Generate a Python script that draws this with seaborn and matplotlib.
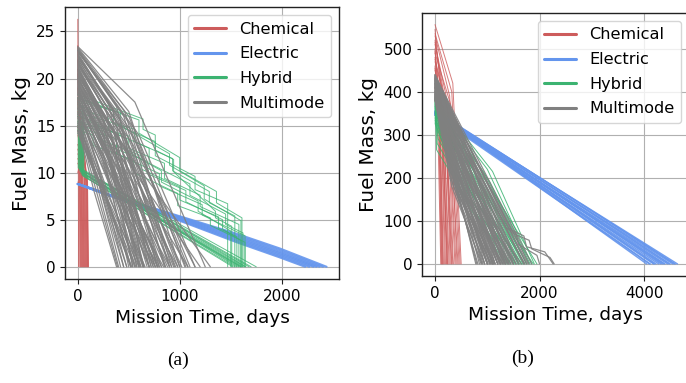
import pandas as pd
import matplotlib
matplotlib.use("Agg")
import matplotlib.pyplot as plt
import seaborn as sns
from matplotlib.lines import Line2D

modes = ["Chemical", "Electric", "Hybrid", "Multimode"]
palette = {"Chemical": "#cd5c5c", "Electric": "#6495ed",
           "Hybrid": "#3cb371", "Multimode": "#808080"}

# ---------------- panel (a) ----------------
chem_a_m0 = [26.3, 23.5, 22.0, 20.5, 19.0, 17.5, 16.5, 15.0, 14.0, 13.0,
             12.0, 11.0, 10.0, 9.0, 14.5, 18.0, 21.0, 12.5, 16.0, 11.5]
chem_a_t1 = [5, 22, 45, 15, 60, 35, 85, 50, 95, 28,
             70, 92, 40, 55, 80, 18, 32, 65, 76, 90]
chem_a_m1 = [14.0, 13.5, 12.0, 13.0, 11.5, 12.5, 10.0, 11.0, 9.5, 12.0,
             10.5, 9.0, 11.5, 8.5, 10.0, 13.0, 12.5, 10.0, 11.0, 9.5]
chem_a_T = [8, 30, 55, 20, 70, 45, 95, 60, 105, 35,
            80, 100, 50, 65, 90, 25, 40, 75, 85, 100]

elec_a_t = [[0, 300, 900, 1560, 1980, 2230],
            [0, 300, 900, 1560, 1980, 2270],
            [0, 300, 900, 1560, 1980, 2310],
            [0, 300, 900, 1560, 1980, 2340],
            [0, 300, 900, 1560, 1980, 2370],
            [0, 300, 900, 1560, 1980, 2405],
            [0, 300, 900, 1560, 1980, 2440]]
elec_a_m = [[8.8, 7.60, 5.30, 2.60, 1.00, 0],
            [8.8, 7.62, 5.38, 2.75, 1.15, 0],
            [8.8, 7.64, 5.45, 2.90, 1.30, 0],
            [8.8, 7.65, 5.50, 3.05, 1.45, 0],
            [8.8, 7.67, 5.57, 3.20, 1.60, 0],
            [8.8, 7.69, 5.63, 3.35, 1.78, 0],
            [8.8, 7.70, 5.70, 3.50, 1.95, 0]]

hyb_a_up_t = [[0, 640, 640, 760, 760, 940, 940, 1350, 1350, 1510, 1510],
              [0, 420, 420, 900, 900, 1240, 1240, 1600, 1600],
              [0, 300, 300, 700, 700, 1100, 1100, 1450, 1450, 1620, 1620],
              [0, 200, 200, 620, 620, 1000, 1000, 1380, 1380, 1560, 1560],
              [0, 500, 500, 850, 850, 1200, 1200, 1580, 1580],
              [0, 150, 150, 550, 550, 980, 980, 1300, 1300, 1640, 1640],
              [0, 350, 350, 760, 760, 1150, 1150, 1470, 1470],
              [0, 260, 260, 680, 680, 1060, 1060, 1420, 1420, 1600, 1600],
              [0, 560, 560, 930, 930, 1290, 1290, 1540, 1540],
              [0, 120, 120, 480, 480, 820, 820, 1180, 1180, 1500, 1500],
              [0, 380, 380, 800, 800, 1220, 1220, 1640, 1640],
              [0, 600, 600, 1000, 1000, 1360, 1360, 1610, 1610]]
hyb_a_up_m = [[18.3, 15.7, 14.6, 14.0, 12.4, 11.4, 10.1, 5.9, 5.2, 4.3, 0],
              [17.6, 16.4, 15.0, 12.0, 10.8, 8.6, 7.2, 4.9, 0],
              [16.8, 15.8, 14.5, 12.6, 11.0, 8.8, 7.6, 5.6, 4.5, 3.6, 0],
              [16.0, 15.3, 13.6, 11.8, 10.4, 8.5, 7.1, 5.3, 4.1, 3.2, 0],
              [15.4, 13.9, 12.6, 11.0, 9.4, 7.6, 6.4, 4.5, 0],
              [14.5, 14.0, 12.9, 11.3, 10.0, 7.8, 6.5, 5.2, 4.4, 2.6, 0],
              [18.0, 16.6, 15.2, 13.3, 11.8, 9.6, 8.2, 6.7, 0],
              [15.0, 14.4, 13.0, 11.2, 9.9, 8.1, 6.9, 5.0, 4.0, 2.8, 0],
              [16.4, 14.6, 13.3, 11.5, 10.2, 8.0, 6.8, 5.4, 0],
              [17.2, 16.8, 15.4, 13.6, 12.3, 10.2, 9.0, 7.0, 5.9, 3.8, 0],
              [14.8, 13.6, 12.0, 9.9, 8.6, 6.6, 5.5, 3.3, 0],
              [17.9, 15.6, 14.2, 11.6, 10.2, 8.0, 6.8, 5.2, 0]]

hyb_a_low_m0 = [15.2, 16.0, 14.6, 17.0, 15.6, 14.2, 16.6, 15.0, 17.4, 14.8, 16.2, 15.4]
hyb_a_low_tb = [20, 40, 10, 60, 30, 15, 50, 25, 45, 35, 5, 55]
hyb_a_low_m1 = [10.2, 9.8, 10.6, 9.6, 10.0, 10.4, 9.9, 10.3, 9.7, 10.1, 10.5, 9.9]
hyb_a_low_T = [1560, 1600, 1650, 1520, 1620, 1700, 1580, 1680, 1540, 1640, 1750, 1600]

multi_a_m0 = [23.4, 22.8, 22.0, 21.5, 21.0, 20.6, 20.0, 19.6, 19.0, 18.5,
              18.0, 17.5, 17.0, 16.5, 16.0, 15.5, 15.0, 14.5, 14.2, 22.5,
              21.8, 23.0, 20.8, 19.8, 18.8, 21.2, 20.2, 19.2, 17.8, 16.8,
              22.2, 20.4, 18.2, 17.2, 16.2, 15.2, 21.6, 19.4, 18.6, 17.6,
              23.2, 22.4, 20.9, 19.9, 18.4, 23.3, 22.9, 22.6, 22.1, 21.7,
              21.3, 20.7, 20.3, 19.7, 19.3, 18.9, 18.3, 17.9, 17.3, 16.9,
              16.3, 15.8, 15.3, 14.8, 14.4, 23.0, 22.3, 21.4, 20.5, 19.5,
              18.7, 17.7, 16.7, 22.7, 21.9, 21.1, 20.1, 19.1, 23.1, 20.0]
multi_a_tm = [560, 500, 450, 420, 380, 360, 330, 300, 280, 260,
              240, 220, 200, 190, 180, 170, 160, 200, 240, 400,
              460, 380, 500, 420, 380, 300, 340, 360, 320, 300,
              520, 460, 440, 400, 360, 300, 540, 520, 300, 280,
              460, 340, 250, 600, 480, 500, 450, 420, 400, 380,
              360, 350, 320, 300, 280, 330, 350, 360, 300, 260,
              240, 220, 250, 270, 300, 600, 560, 520, 480, 460,
              420, 400, 380, 300, 280, 260, 240, 220, 520, 560]
multi_a_mm = [17.5, 16.0, 15.0, 14.2, 14.0, 13.0, 13.5, 12.0, 12.5, 11.0,
              11.5, 10.0, 10.5, 9.5, 9.0, 8.5, 8.0, 9.0, 8.0, 15.5,
              14.0, 17.0, 12.0, 11.0, 10.5, 15.0, 14.8, 12.0, 10.0, 9.0,
              14.5, 12.5, 9.5, 8.8, 8.0, 7.5, 13.0, 10.0, 12.0, 11.0,
              16.5, 16.8, 15.5, 10.5, 10.0, 16.5, 16.0, 15.5, 15.0, 14.5,
              14.0, 13.5, 13.0, 12.5, 12.0, 11.0, 10.5, 10.0, 9.5, 9.0,
              8.8, 8.5, 8.0, 7.5, 7.0, 14.0, 13.5, 12.5, 12.0, 11.0,
              10.5, 9.5, 8.5, 17.5, 16.5, 15.5, 14.5, 13.5, 15.0, 10.0]
multi_a_T = [1250, 1100, 980, 900, 820, 760, 700, 640, 600, 560,
             520, 480, 450, 420, 400, 390, 380, 450, 520, 860,
             950, 780, 1020, 880, 800, 650, 720, 760, 700, 660,
             1060, 940, 900, 840, 760, 620, 1150, 1080, 620, 580,
             920, 700, 540, 1300, 980, 1000, 900, 850, 800, 780,
             740, 720, 680, 650, 610, 700, 740, 780, 640, 570,
             520, 480, 530, 560, 600, 1150, 1080, 1000, 960, 920,
             860, 820, 790, 640, 600, 580, 540, 500, 1050, 1200]

# ---------------- panel (b) ----------------
chem_b_m0 = [556, 545, 530, 520, 510, 500, 490, 480, 470, 460, 450, 440, 430,
             420, 410, 400, 390, 380, 535, 515, 495, 475, 455, 435, 415]
chem_b_tm = [340, 110, 280, 160, 230, 80, 300, 140, 250, 70, 210, 170, 130,
             290, 100, 220, 60, 150, 320, 190, 90, 260, 150, 200, 80]
chem_b_mm = [420, 400, 390, 380, 380, 370, 370, 350, 350, 340, 330, 320, 310,
             310, 300, 290, 280, 270, 400, 380, 360, 350, 330, 320, 300]
chem_b_T = [500, 180, 420, 250, 350, 140, 460, 220, 380, 120, 320, 270, 200,
            440, 160, 340, 110, 240, 480, 290, 150, 400, 230, 310, 130]

elec_b_m0 = [352, 348, 355, 350, 346, 353, 349, 351, 347, 354, 350, 348, 352, 345, 356,
             349, 353, 347]
elec_b_T = [4050, 4120, 4600, 4200, 4280, 4640, 4350, 4400, 4450, 4500, 4550, 4180,
            4320, 4100, 4580, 4230, 4480, 4380]

hyb_b_m0 = [385, 380, 375, 370, 365, 360, 355, 350, 345, 340, 335, 330, 378, 372,
            368, 362, 358, 352, 346, 342, 388, 338, 333, 326, 382, 374, 366]
hyb_b_tm = [1100, 1000, 950, 900, 850, 800, 760, 720, 680, 640, 600, 560, 900, 1050,
            1150, 980, 700, 820, 1200, 1000, 600, 760, 880, 500, 40, 30, 60]
hyb_b_mm = [215, 220, 210, 200, 195, 190, 180, 175, 170, 160, 155, 150, 180, 190,
            160, 170, 200, 165, 120, 140, 250, 150, 130, 170, 280, 265, 290]
hyb_b_T = [1900, 1850, 1800, 1750, 1700, 1650, 1600, 1550, 1500, 1450, 1400, 1350, 1680, 1820,
           1950, 1760, 1500, 1620, 1880, 1720, 1580, 1540, 1660, 1300, 1450, 1380, 1520]

multi_b_m0 = [438, 432, 428, 424, 420, 416, 412, 408, 404, 400, 396, 392, 388, 384,
              380, 436, 430, 426, 422, 418, 414, 410, 406, 402, 398, 394, 390, 386,
              382, 440, 434, 427, 419, 411, 403, 395, 387, 425,
              437, 433, 429, 423, 417, 413, 407, 401, 397, 391, 385, 381,
              435, 431, 421, 415, 409, 399, 393, 389, 383, 439, 426, 418,
              410, 402, 394, 386, 432, 420]
multi_b_tm = [900, 800, 700, 650, 600, 560, 520, 480, 450, 420, 400, 380, 360, 340,
              320, 500, 450, 400, 350, 300, 280, 600, 700, 750, 500, 550, 450, 380,
              420, 700, 600, 550, 480, 420, 380, 340, 300, 800,
              650, 620, 580, 540, 500, 470, 440, 410, 380, 350, 320, 300,
              750, 720, 680, 640, 600, 560, 520, 480, 440, 550, 500, 460,
              420, 380, 340, 300, 850, 820]
multi_b_mm = [225, 240, 250, 240, 235, 230, 225, 220, 215, 210, 200, 195, 190, 185,
              180, 290, 280, 270, 265, 260, 250, 200, 180, 170, 190, 170, 180, 200,
              170, 260, 270, 250, 245, 240, 230, 220, 215, 220,
              260, 255, 250, 245, 240, 235, 230, 225, 220, 215, 210, 200,
              230, 225, 215, 205, 200, 190, 185, 180, 175, 290, 275, 265,
              255, 245, 235, 225, 210, 200]
multi_b_T = [1850, 1800, 1700, 1600, 1500, 1420, 1350, 1280, 1200, 1150, 1100, 1050, 1000, 950,
             900, 1250, 1150, 1050, 950, 850, 780, 1400, 1550, 1650, 1250, 1300, 1120, 1020,
             1080, 1750, 1450, 1350, 1230, 1120, 1000, 920, 820, 1700,
             1500, 1420, 1380, 1320, 1250, 1200, 1150, 1100, 1050, 1000, 950, 880,
             1600, 1550, 1480, 1400, 1330, 1260, 1200, 1130, 1070, 1350, 1300, 1200,
             1100, 1000, 900, 800, 1780, 1720]

multi_b_tail_t = [[0, 1450, 1700, 1750, 2100, 2260],
                  [0, 1350, 1550, 1600, 1950, 2000],
                  [0, 1500, 1800, 1850, 2200, 2280]]
multi_b_tail_m = [[430, 80, 65, 40, 28, 0],
                  [420, 85, 70, 45, 20, 0],
                  [425, 70, 55, 35, 15, 0]]


def build_frame(groups):
    rows = []
    run = 0
    for mode, trajs in groups:
        for ts, ms in trajs:
            for t, m in zip(ts, ms):
                rows.append((mode, run, t, m))
            run += 1
    return pd.DataFrame(rows, columns=["mode", "run", "t", "m"])


def three_point(m0s, tms, mms, Ts):
    return [([0, tm, T], [m0, mm, 0]) for m0, tm, mm, T in zip(m0s, tms, mms, Ts)]


df_a = build_frame([
    ("Chemical", three_point(chem_a_m0, chem_a_t1, chem_a_m1, chem_a_T)),
    ("Electric", list(zip(elec_a_t, elec_a_m))),
    ("Hybrid", list(zip(hyb_a_up_t, hyb_a_up_m)) +
        [([0, tb, tb, T], [m0, m0 - 0.1, m1, 0])
         for m0, tb, m1, T in zip(hyb_a_low_m0, hyb_a_low_tb, hyb_a_low_m1, hyb_a_low_T)]),
    ("Multimode", three_point(multi_a_m0, multi_a_tm, multi_a_mm, multi_a_T)),
])

df_b = build_frame([
    ("Chemical", three_point(chem_b_m0, chem_b_tm, chem_b_mm, chem_b_T)),
    ("Electric", [([0, T], [m0, 0]) for m0, T in zip(elec_b_m0, elec_b_T)]),
    ("Hybrid", three_point(hyb_b_m0, hyb_b_tm, hyb_b_mm, hyb_b_T)),
    ("Multimode", three_point(multi_b_m0, multi_b_tm, multi_b_mm, multi_b_T) +
        list(zip(multi_b_tail_t, multi_b_tail_m))),
])

sns.set_style("ticks", {"axes.grid": True, "grid.color": "#b0b0b0",
                        "axes.edgecolor": "#222222", "text.color": "black",
                        "axes.labelcolor": "black", "xtick.color": "black",
                        "ytick.color": "black"})
plt.rcParams["font.family"] = ["DejaVu Sans"]

fig = plt.figure(figsize=(6.86, 3.83), dpi=100)
ax_a = fig.add_axes([0.0948, 0.2715, 0.3994, 0.7102])
ax_b = fig.add_axes([0.6152, 0.2794, 0.3892, 0.6867])

styles_a = {"Chemical": (0.7, 0.85), "Electric": (1.5, 0.9),
            "Hybrid": (0.7, 0.8), "Multimode": (0.9, 0.9)}
styles_b = {"Chemical": (0.7, 0.8), "Electric": (1.0, 0.9),
            "Hybrid": (0.7, 0.85), "Multimode": (0.9, 0.9)}

for ax, df, styles in [(ax_a, df_a, styles_a), (ax_b, df_b, styles_b)]:
    for mode in modes:
        lw, al = styles[mode]
        sns.lineplot(data=df[df["mode"] == mode], x="t", y="m", units="run",
                     estimator=None, sort=False, color=palette[mode],
                     lw=lw, alpha=al, legend=False, ax=ax)
    ax.set_xlabel("Mission Time, days", fontsize=13.3, color="black")
    ax.set_ylabel("Fuel Mass, kg", fontsize=14.4, color="black")
    ax.tick_params(labelsize=11, length=3.5, width=0.8, color="#222222",
                   labelcolor="black")
    ax.grid(True, color="#b0b0b0", lw=0.8)
    for sp in ax.spines.values():
        sp.set_linewidth(1.0)
    handles = [Line2D([0], [0], color=palette[m], lw=2.2) for m in modes]
    ax.legend(handles, modes, loc="upper right", fontsize=11.6, labelspacing=0.6,
              frameon=True, fancybox=True, framealpha=0.8, edgecolor="#cccccc")

ax_a.set_xlim(-125, 2562)
ax_a.set_ylim(-1.3, 27.6)
ax_a.set_xticks([0, 1000, 2000])
ax_a.set_yticks([0, 5, 10, 15, 20, 25])

ax_b.set_xlim(-249, 4860)
ax_b.set_ylim(-28, 583)
ax_b.set_xticks([0, 2000, 4000])
ax_b.set_yticks([0, 100, 200, 300, 400, 500])

fig.text(178 / 686, 1 - 360 / 383, "(a)", family="Liberation Serif",
         fontsize=14, ha="center", va="center", color="black")
fig.text(523 / 686, 1 - 358 / 383, "(b)", family="Liberation Serif",
         fontsize=14, ha="center", va="center", color="black")

fig.savefig("out.png", dpi=100)
